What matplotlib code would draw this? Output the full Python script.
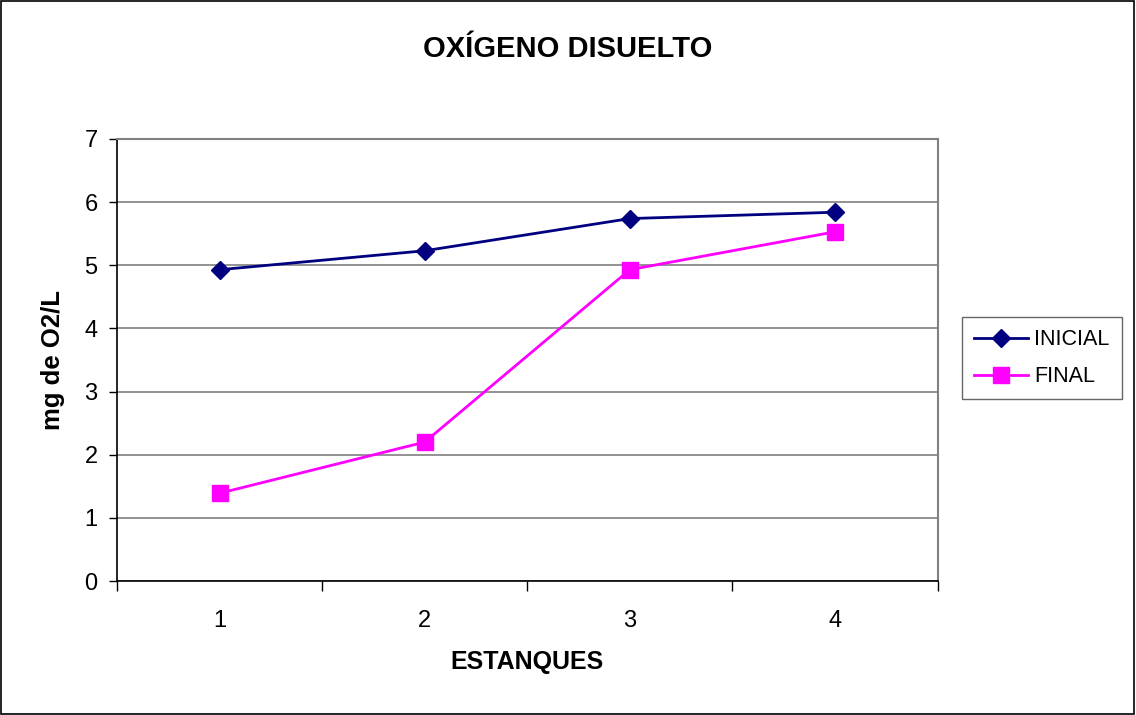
import matplotlib
matplotlib.use("Agg")
import matplotlib.pyplot as plt
from matplotlib.patches import Rectangle

plt.rcParams['font.family'] = ['Liberation Sans', 'DejaVu Sans']

categories = ['1', '2', '3', '4']
inicial = [4.93, 5.23, 5.74, 5.84]
final = [1.39, 2.20, 4.93, 5.53]
yticks = [0, 1, 2, 3, 4, 5, 6, 7]

fig = plt.figure(figsize=(11.36, 7.15), dpi=100)
fig.patch.set_facecolor('white')
fig.patches.append(Rectangle((0.001, 0.002), 0.997, 0.996, transform=fig.transFigure,
                             fill=False, edgecolor='black', linewidth=1.2))

ax = fig.add_axes([0.103, 0.1874, 0.7223, 0.6182])
x = list(range(len(categories)))
ax.plot(x, inicial, color='#000080', marker='D', markersize=9, linewidth=2, label='INICIAL')
ax.plot(x, final, color='#FF00FF', marker='s', markersize=11, linewidth=2, label='FINAL')

ax.set_xlim(-0.5, len(categories) - 0.5)
ax.set_ylim(0, 7)
ax.set_yticks(yticks)
ax.set_yticklabels([str(v) for v in yticks], fontsize=17)
ax.set_xticks(x)
ax.set_xticklabels(categories, fontsize=17)
ax.tick_params(axis='x', length=0, pad=21)
ax.set_xticks([i - 0.5 for i in range(len(categories) + 1)], minor=True)
ax.tick_params(axis='x', which='minor', length=7, width=1, color='black', direction='out')
ax.tick_params(axis='y', length=6, width=1, direction='out', pad=8)
ax.grid(axis='y', color='#808080', linewidth=1.2)
ax.set_axisbelow(True)

for s in ['top', 'right']:
    ax.spines[s].set_color('#808080')
    ax.spines[s].set_linewidth(1.5)
for s in ['left', 'bottom']:
    ax.spines[s].set_color('black')
    ax.spines[s].set_linewidth(1.2)

ax.set_xlabel('ESTANQUES', fontsize=18, fontweight='bold', labelpad=13)
ax.set_ylabel('mg de O2/L', fontsize=18.5, fontweight='bold', labelpad=14)
fig.text(0.5, 0.931, 'OXÍGENO DISUELTO', ha='center', va='center', fontsize=21, fontweight='bold')

leg = fig.legend(loc='upper left', bbox_to_anchor=(0.847, 0.556), fontsize=15.5,
                 frameon=True, fancybox=False, edgecolor='black', handlelength=2.5,
                 handletextpad=0.3, borderpad=0.55, labelspacing=0.75, borderaxespad=0)
leg.get_frame().set_linewidth(1.0)
leg.get_frame().set_edgecolor('#404040')

fig.savefig('out.png', dpi=100)
